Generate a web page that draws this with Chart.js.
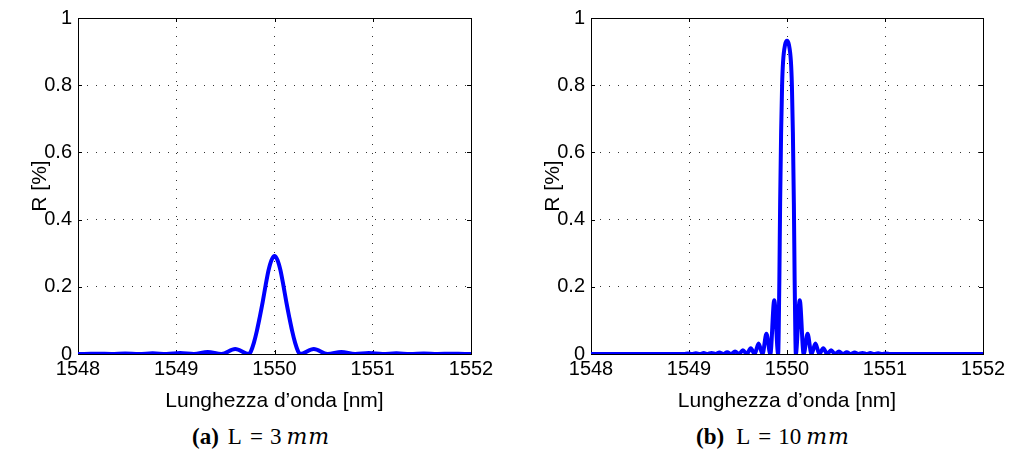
<!DOCTYPE html>
<html>
<head>
<meta charset="utf-8">
<script src="https://cdn.jsdelivr.net/npm/chart.js@4"></script>
<style>
  body { margin: 0; background: #fff; width: 1010px; height: 451px; position: relative; overflow: hidden; }
  .panel { position: absolute; top: 0; }
  .cap { position: absolute; top: 425px; font-family: "Liberation Serif", serif; font-size: 23px; line-height: 23px; white-space: nowrap; color: #000; }
  .cap i { font-family: "DejaVu Serif", serif; font-size: 22px; letter-spacing: 1px; margin-left: 5px; }
</style>
</head>
<body>
<canvas id="chartA" class="panel" width="505" height="420" style="left:0"></canvas>
<canvas id="chartB" class="panel" width="497" height="420" style="left:513px"></canvas>
<div class="cap" style="left:192px"><b>(a)</b><span style="margin-left:9px">L</span><span style="margin-left:8px">=</span><span style="margin-left:7px">3</span><i>mm</i></div>
<div class="cap" style="left:696px"><b>(b)</b><span style="margin-left:12px">L</span><span style="margin-left:8px">=</span><span style="margin-left:7px">10</span><i>mm</i></div>
<script>
// axis ticks
const xTicks = [1548, 1549, 1550, 1551, 1552];
const yTicks = [0, 0.2, 0.4, 0.6, 0.8, 1];

// (a) L = 3 mm
const wavelength3 = [1548.00, 1548.06, 1548.20, 1548.34, 1548.48, 1548.62, 1548.76, 1548.90, 1549.04, 1549.18,
  1549.32, 1549.46, 1549.60, 1549.74, 1549.76, 1549.79, 1549.82, 1549.85, 1549.88, 1549.91, 1549.94, 1549.97,
  1550.00, 1550.03, 1550.06, 1550.09, 1550.12, 1550.15, 1550.18, 1550.21, 1550.24, 1550.26, 1550.40, 1550.54,
  1550.68, 1550.82, 1550.96, 1551.10, 1551.24, 1551.38, 1551.52, 1551.66, 1551.80, 1551.94, 1552.00];
const reflect3 = [0, 0, 0.0008, 0, 0.0012, 0, 0.002, 0, 0.003, 0,
  0.006, 0, 0.015, 0, 0.008, 0.033, 0.068, 0.11, 0.155, 0.205, 0.25, 0.28,
  0.292, 0.28, 0.25, 0.205, 0.155, 0.11, 0.068, 0.033, 0.008, 0, 0.015, 0,
  0.006, 0, 0.003, 0, 0.002, 0, 0.0012, 0, 0.0008, 0, 0];

// (b) L = 10 mm
const wavelength10 = [1548.00, 1548.95, 1548.99, 1549.03, 1549.07, 1549.11, 1549.15, 1549.19, 1549.23, 1549.27,
  1549.31, 1549.35, 1549.39, 1549.43, 1549.47, 1549.51, 1549.55, 1549.59, 1549.63, 1549.67, 1549.71, 1549.75,
  1549.79, 1549.83, 1549.87, 1549.91, 1549.915, 1549.922, 1549.93, 1549.94, 1549.95, 1549.96, 1549.98,
  1550.00, 1550.02, 1550.04, 1550.05, 1550.06, 1550.07, 1550.078, 1550.085, 1550.09, 1550.13, 1550.17,
  1550.21, 1550.25, 1550.29, 1550.33, 1550.37, 1550.41, 1550.45, 1550.49, 1550.53, 1550.57, 1550.61,
  1550.65, 1550.69, 1550.73, 1550.77, 1550.81, 1550.85, 1550.89, 1550.93, 1550.97, 1551.01, 1551.05, 1552.00];
const reflect10 = [0, 0, 0.0018, 0, 0.0022, 0, 0.0027, 0, 0.0033, 0,
  0.0042, 0, 0.0055, 0, 0.0075, 0, 0.011, 0, 0.017, 0, 0.031, 0,
  0.06, 0, 0.16, 0, 0.06, 0.22, 0.45, 0.66, 0.8, 0.87, 0.92,
  0.932, 0.92, 0.87, 0.8, 0.66, 0.45, 0.22, 0.06, 0, 0.16, 0,
  0.06, 0, 0.031, 0, 0.017, 0, 0.011, 0, 0.0075, 0, 0.0055,
  0, 0.0042, 0, 0.0033, 0, 0.0027, 0, 0.0022, 0, 0.0018, 0, 0];

const axisFont = "'Liberation Sans', Arial, sans-serif";

// matlab style box with inward ticks
const boxTicks = {
  id: "boxTicks",
  beforeDatasetsDraw(chart) {
    const { ctx, chartArea: a, scales: { x, y } } = chart;
    ctx.save();
    ctx.strokeStyle = "#000";
    ctx.lineWidth = 1;
    ctx.beginPath();
    xTicks.forEach(v => {
      const px = Math.round(x.getPixelForValue(v)) + 0.5;
      ctx.moveTo(px, a.bottom); ctx.lineTo(px, a.bottom - 4);
      ctx.moveTo(px, a.top); ctx.lineTo(px, a.top + 4);
    });
    yTicks.forEach(v => {
      const py = Math.round(y.getPixelForValue(v)) + 0.5;
      ctx.moveTo(a.left, py); ctx.lineTo(a.left + 4, py);
      ctx.moveTo(a.right, py); ctx.lineTo(a.right - 4, py);
    });
    ctx.stroke();
    ctx.strokeRect(Math.round(a.left) + 0.5, Math.round(a.top) + 0.5, Math.round(a.width), Math.round(a.height));
    ctx.restore();
  }
};

function makeChart(id, xs, ys, padRight) {
  return new Chart(document.getElementById(id), {
    type: "line",
    data: {
      datasets: [{
        data: xs.map((v, i) => ({ x: v, y: ys[i] })),
        borderColor: "#0000ff",
        borderWidth: 4,
        pointRadius: 0,
        cubicInterpolationMode: "monotone",
        fill: false
      }]
    },
    options: {
      responsive: false,
      animation: false,
      layout: { padding: { top: 16, right: padRight, left: 0, bottom: 0 } },
      plugins: { legend: { display: false }, tooltip: { enabled: false } },
      scales: {
        x: {
          type: "linear",
          min: 1548,
          max: 1552,
          afterBuildTicks: s => { s.ticks = xTicks.map(v => ({ value: v })); },
          afterFit: s => { s.height = 66; },
          grid: { color: "#333", lineWidth: 1, drawTicks: false },
          border: { display: false, dash: [1, 8] },
          ticks: { padding: 3, color: "#000", maxRotation: 0, autoSkip: false,
            font: { size: 20, family: axisFont },
            callback: v => String(v) },
          title: { display: true, text: "Lunghezza d’onda [nm]", color: "#000",
            font: { size: 21, family: axisFont },
            padding: { top: 0, bottom: 6 } }
        },
        y: {
          min: 0,
          max: 1,
          afterBuildTicks: s => { s.ticks = yTicks.map(v => ({ value: v })); },
          afterFit: s => { s.width = 78; },
          grid: { color: "#333", lineWidth: 1, drawTicks: false },
          border: { display: false, dash: [1, 8] },
          ticks: { padding: 6, color: "#000",
            font: { size: 20, family: axisFont },
            callback: v => String(v) },
          title: { display: true, text: "R [%]", color: "#000",
            font: { size: 21, family: axisFont },
            padding: { top: 28, bottom: 0 } }
        }
      }
    },
    plugins: [boxTicks]
  });
}

makeChart("chartA", wavelength3, reflect3, 34);
makeChart("chartB", wavelength10, reflect10, 27);
</script>
</body>
</html>
